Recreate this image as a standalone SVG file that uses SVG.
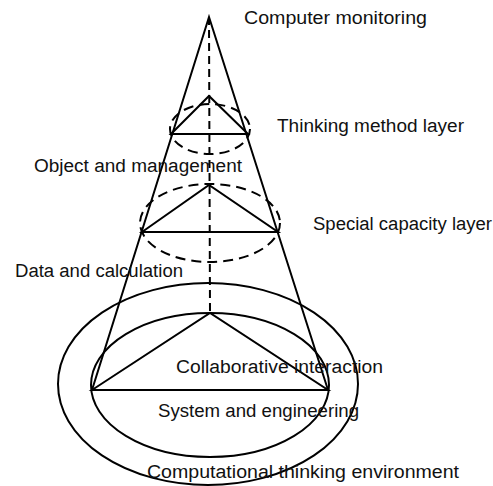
<svg xmlns="http://www.w3.org/2000/svg" width="493" height="486" viewBox="0 0 493 486">
<style>
.s{fill:none;stroke:#000;stroke-width:2}
.d{fill:none;stroke:#000;stroke-width:2;stroke-dasharray:10,6}
.v{fill:none;stroke:#000;stroke-width:2;stroke-dasharray:8,5}
text{font-family:"Liberation Sans",Arial,sans-serif;font-size:18px;fill:#111}
</style>
<rect width="493" height="486" fill="#fff"/>
<g id="connectors">
<line class="v" x1="209" y1="17" x2="210" y2="313"/>
<polyline class="s" points="92,390 209,17 328,390"/>
</g>
<g id="env">
<ellipse class="s" cx="208" cy="384" rx="150" ry="101"/>
<text x="147" y="478" textLength="312" lengthAdjust="spacingAndGlyphs">Computational thinking environment</text>
</g>
<g id="base">
<ellipse class="s" cx="210" cy="385" rx="119" ry="72"/>
<polygon class="s" points="92,390 210,313 328,390"/>
<text x="176" y="373" textLength="207" lengthAdjust="spacingAndGlyphs">Collaborative interaction</text>
<text x="158" y="417" textLength="201" lengthAdjust="spacingAndGlyphs">System and engineering</text>
</g>
<g id="middle">
<ellipse class="d" cx="210" cy="223" rx="70" ry="39"/>
<polygon class="s" points="142,232 209,185 278,232"/>
<text x="313" y="230" textLength="179" lengthAdjust="spacingAndGlyphs">Special capacity layer</text>
<text x="34" y="172" textLength="208" lengthAdjust="spacingAndGlyphs">Object and management</text>
<text x="15" y="277" textLength="168" lengthAdjust="spacingAndGlyphs">Data and calculation</text>
</g>
<g id="top">
<ellipse class="d" cx="210" cy="129" rx="40" ry="25"/>
<polygon class="s" points="171,134 209,96 248,134"/>
<text x="277" y="132" textLength="187" lengthAdjust="spacingAndGlyphs">Thinking method layer</text>
</g>
<g id="apex">
<text x="244" y="24" textLength="183" lengthAdjust="spacingAndGlyphs">Computer monitoring</text>
</g>
</svg>
